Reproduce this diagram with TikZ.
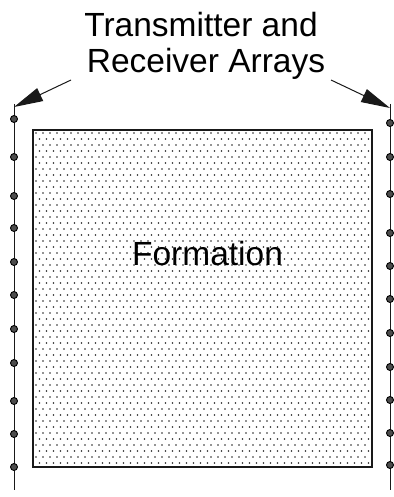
\documentclass[tikz,border=0pt]{standalone}
\usepackage{fontspec}
\setmainfont{Liberation Sans}
\usetikzlibrary{arrows.meta}
\tikzset{
  bigtext/.style={font=\fontsize{33.5}{36}\selectfont, inner sep=0pt},
  arrayline/.style={line width=1pt, black!90},
  sensor/.style={circle, draw=black, fill=black!70, line width=0.9pt, minimum size=7pt, inner sep=0pt},
  pointer/.style={line width=1pt, -{Triangle[length=29pt,width=14pt]}, black!90},
  patdot/.style={fill=black!85},
}
\begin{document}
\begin{tikzpicture}[x=1pt,y=-1pt]
\useasboundingbox (0,0) rectangle (393,497);
% formation with dot pattern
\begin{scope}
  \clip (33,130) rectangle (372,467);
  \foreach \r in {0,...,57} {
    \pgfmathsetmacro{\yy}{133+6*\r}
    \pgfmathsetmacro{\xo}{mod(\r,2)*3.5}
    \foreach \c in {0,...,49} {
      \fill[patdot] ({36+\xo+7*\c},\yy) circle (0.8pt);
    }
  }
\end{scope}
\draw[line width=1.4pt, black!90] (33,130) rectangle (372,467);
\node[bigtext, anchor=base] (form) at (207.5,265) {Formation};
% title
\node[bigtext, anchor=base] (t1) at (201,37) {Transmitter and};
\node[bigtext, anchor=base] (t2) at (206,73) {Receiver Arrays};
% array lines
\coordinate (ltop) at (14,104);
\coordinate (lbot) at (14,490);
\coordinate (rtop) at (390,104);
\coordinate (rbot) at (390,490);
\draw[arrayline] (ltop) -- (lbot);
\draw[arrayline] (rtop) -- (rbot);
\foreach \y [count=\i] in {119,157,196,228,262,295,329,363,401,434,467} {
  \node[sensor] (l\i) at (14,\y) {};
}
\foreach \y [count=\i] in {123,157,194,233,266,299,333,367,400,433,465} {
  \node[sensor] (r\i) at (390,\y) {};
}
% pointers
\coordinate (la) at (71,80);
\coordinate (lt) at (14,107);
\coordinate (ra) at (331,80);
\coordinate (rt) at (390,108);
\draw[pointer] (la) -- (lt);
\draw[pointer] (ra) -- (rt);
\end{tikzpicture}
\end{document}
